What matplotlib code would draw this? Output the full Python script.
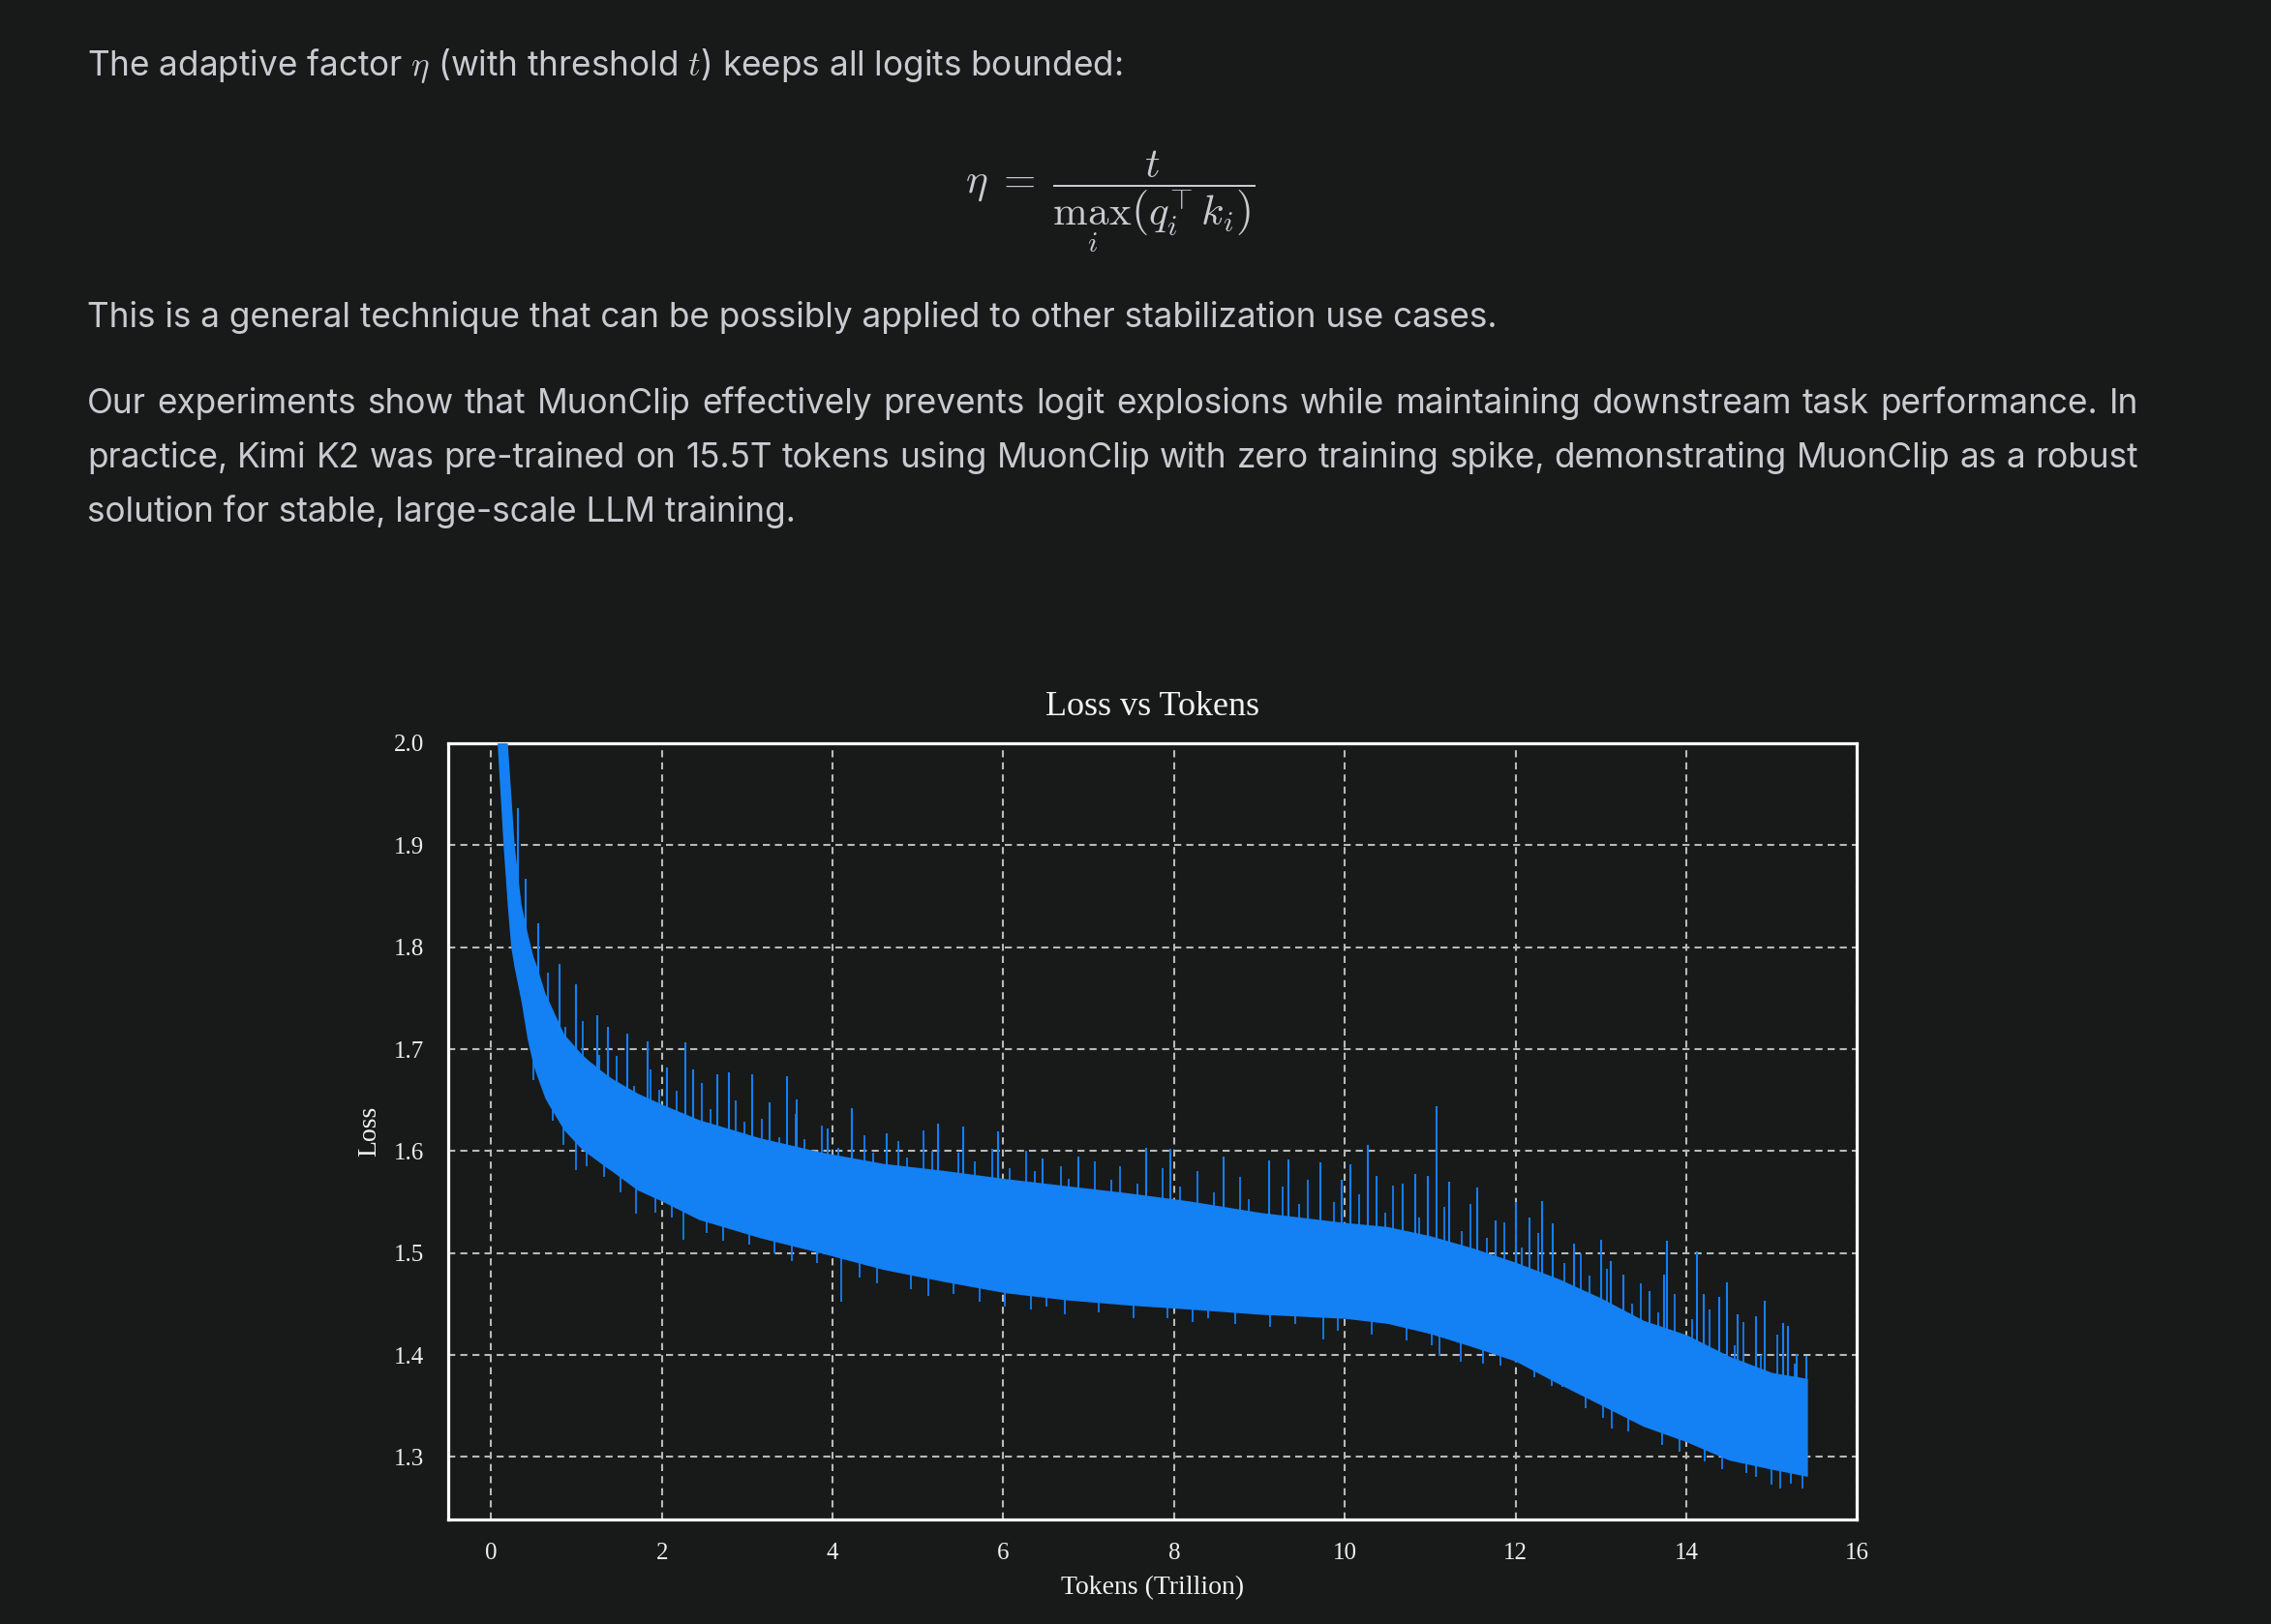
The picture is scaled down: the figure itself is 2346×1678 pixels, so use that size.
import numpy as np
import matplotlib
matplotlib.use("Agg")
import matplotlib.pyplot as plt

# ---------------- data ----------------
tokens = [0.07, 0.14, 0.19, 0.23, 0.27, 0.35, 0.42, 0.49, 0.53, 0.63, 0.67, 0.85,
          1.06, 1.14, 1.35, 1.42, 1.71, 2.00, 2.43, 3.15, 3.87, 4.59, 5.31, 6.03,
          6.75, 7.47, 8.19, 9.00, 10.00, 10.50, 11.00, 11.50, 12.00, 12.50, 13.00, 13.50,
          14.00, 14.50, 15.00, 15.42]
loss_low = [2.000, 1.900, 1.840, 1.800, 1.780, 1.747, 1.711, 1.685, 1.675, 1.652, 1.646, 1.621,
            1.602, 1.597, 1.584, 1.580, 1.562, 1.551, 1.533, 1.515, 1.500, 1.484, 1.472, 1.461,
            1.454, 1.449, 1.445, 1.440, 1.436, 1.431, 1.421, 1.408, 1.394, 1.372, 1.351, 1.330,
            1.315, 1.297, 1.288, 1.281]
loss_high = [2.300, 2.080, 2.000, 1.950, 1.900, 1.842, 1.815, 1.791, 1.782, 1.755, 1.748, 1.715,
             1.695, 1.689, 1.675, 1.671, 1.657, 1.646, 1.631, 1.613, 1.599, 1.588, 1.581, 1.573,
             1.566, 1.559, 1.551, 1.540, 1.530, 1.526, 1.517, 1.505, 1.491, 1.475, 1.456, 1.434,
             1.420, 1.399, 1.383, 1.377]

# tall upward spikes
spike_up_x = [0.31, 0.40, 0.55, 0.80, 0.99, 1.24, 1.37, 1.60, 1.83, 2.06, 2.27, 2.36, 2.65,
              2.78, 3.06, 3.26, 3.47, 3.58, 3.94, 4.22, 4.63, 5.24, 5.53, 5.94, 6.46, 6.88,
              7.67, 7.96, 8.58, 9.11, 9.34, 9.71, 9.96, 10.07, 10.27, 10.37, 10.68, 10.82,
              10.97, 11.08, 11.22, 11.55, 11.77, 12.01, 12.16, 12.31, 12.44, 12.68, 13.00,
              13.12, 13.26, 13.57, 13.74, 13.77, 14.12, 14.21, 14.39, 14.48, 14.60, 14.82,
              14.92, 15.13, 15.19, 15.29, 15.41]
spike_up_y = [1.936, 1.867, 1.823, 1.784, 1.764, 1.733, 1.722, 1.715, 1.708, 1.682, 1.707, 1.680, 1.675,
              1.677, 1.675, 1.648, 1.673, 1.651, 1.622, 1.642, 1.617, 1.627, 1.624, 1.619, 1.593, 1.595,
              1.603, 1.602, 1.595, 1.591, 1.592, 1.589, 1.572, 1.587, 1.606, 1.576, 1.568, 1.578,
              1.576, 1.644, 1.570, 1.564, 1.532, 1.550, 1.535, 1.551, 1.529, 1.509, 1.513,
              1.492, 1.479, 1.463, 1.479, 1.512, 1.502, 1.460, 1.457, 1.471, 1.440, 1.438,
              1.453, 1.431, 1.429, 1.401, 1.399]
# small upward spikes along the upper edge
minor_up_x = [0.67, 0.87, 1.07, 1.27, 1.47, 1.67, 1.87, 1.97, 2.17, 2.47, 2.57, 2.87, 2.97,
              3.17, 3.37, 3.57, 3.67, 3.87, 4.07, 4.37, 4.47, 4.77, 4.87, 5.07, 5.17, 5.47,
              5.67, 5.87, 6.07, 6.27, 6.37, 6.67, 6.77, 7.07, 7.27, 7.37, 7.57, 7.87, 8.07,
              8.27, 8.47, 8.77, 8.87, 9.27, 9.47, 9.57, 9.87, 10.17, 10.47, 10.57, 10.87,
              11.17, 11.37, 11.47, 11.67, 11.87, 12.07, 12.27, 12.57, 12.77, 12.87, 13.07,
              13.37, 13.47, 13.67, 13.87, 14.07, 14.27, 14.57, 14.67, 14.87, 15.07, 15.27]
minor_up_y = [1.775, 1.722, 1.728, 1.694, 1.693, 1.664, 1.680, 1.660, 1.659, 1.667, 1.641, 1.650, 1.629,
              1.632, 1.614, 1.636, 1.612, 1.625, 1.603, 1.616, 1.598, 1.610, 1.594, 1.620, 1.600, 1.598,
              1.590, 1.602, 1.583, 1.600, 1.580, 1.585, 1.573, 1.590, 1.572, 1.585, 1.568, 1.583, 1.565,
              1.580, 1.560, 1.575, 1.553, 1.565, 1.548, 1.572, 1.550, 1.558, 1.540, 1.566, 1.535,
              1.545, 1.522, 1.548, 1.515, 1.530, 1.505, 1.520, 1.490, 1.500, 1.478, 1.485,
              1.450, 1.470, 1.442, 1.460, 1.435, 1.445, 1.410, 1.432, 1.400, 1.420, 1.392]
# downward spikes below the lower edge
spike_down_x = [0.49, 0.72, 0.85, 0.99, 1.12, 1.32, 1.52, 1.70, 1.92, 2.12, 2.25, 2.52, 2.72,
                3.02, 3.32, 3.52, 3.82, 4.10, 4.32, 4.52, 4.92, 5.12, 5.42, 5.72, 6.02, 6.32,
                6.50, 6.72, 7.12, 7.52, 7.92, 8.22, 8.40, 8.72, 9.12, 9.42, 9.75, 9.92, 10.32,
                10.72, 11.02, 11.11, 11.36, 11.62, 11.82, 12.22, 12.42, 12.55, 12.82, 13.02,
                13.13, 13.32, 13.72, 13.92, 14.22, 14.42, 14.70, 14.82, 15.00, 15.10, 15.22, 15.36]
spike_down_y = [1.670, 1.630, 1.606, 1.581, 1.585, 1.575, 1.560, 1.539, 1.540, 1.535, 1.513, 1.520, 1.512,
                1.508, 1.500, 1.492, 1.490, 1.452, 1.476, 1.470, 1.465, 1.458, 1.460, 1.452, 1.448, 1.445,
                1.448, 1.440, 1.442, 1.436, 1.436, 1.432, 1.436, 1.430, 1.428, 1.430, 1.415, 1.424, 1.420,
                1.414, 1.410, 1.399, 1.393, 1.392, 1.390, 1.378, 1.370, 1.369, 1.348, 1.338,
                1.328, 1.325, 1.312, 1.305, 1.296, 1.288, 1.284, 1.280, 1.273, 1.269, 1.274, 1.269]

x_ticks = [0, 2, 4, 6, 8, 10, 12, 14, 16]
y_ticks = [1.3, 1.4, 1.5, 1.6, 1.7, 1.8, 1.9, 2.0]

line1 = r"The adaptive factor $\eta$ (with threshold $t$) keeps all logits bounded:"
equation = r"$\eta \;=\; \dfrac{t}{\max_i \left(q_i^{\top} k_i\right)}$"
line2 = "This is a general technique that can be possibly applied to other stabilization use cases."
para_lines = [
    "Our experiments show that MuonClip effectively prevents logit explosions while maintaining downstream task performance. In",
    "practice, Kimi K2 was pre-trained on 15.5T tokens using MuonClip with zero training spike, demonstrating MuonClip as a robust",
]
para_last = "solution for stable, large-scale LLM training."

# ---------------- styling ----------------
BG = "#181919"
TXT = "#c8ccd1"
BLUE = "#1380f4"
W, H = 2346, 1678
plt.rcParams["mathtext.fontset"] = "cm"

fig = plt.figure(figsize=(W / 100, H / 100), dpi=100, facecolor=BG)

def fx(px):
    return px / W

def fy(py):
    return 1 - py / H

SANS = ["Inter", "DejaVu Sans"]
FS = 25.3

fig.text(fx(90), fy(78), line1, fontsize=FS, color=TXT, family=SANS, va="baseline", ha="left")
fig.text(fx(1147), fy(208), equation, fontsize=31, color=TXT, va="center", ha="center")
fig.text(fx(90), fy(338), line2, fontsize=FS, color=TXT, family=SANS, va="baseline", ha="left")

renderer = fig.canvas.get_renderer()
for line, base in zip(para_lines, [427, 483]):
    words = line.split(" ")
    objs = [fig.text(0, fy(base), w, fontsize=FS, color=TXT, family=SANS, va="baseline", ha="left")
            for w in words]
    widths = [o.get_window_extent(renderer).width for o in objs]
    gap = (2209 - 90 - sum(widths)) / (len(words) - 1)
    xpos = 90.0
    for o, wd in zip(objs, widths):
        o.set_x(fx(xpos))
        xpos += wd + gap
fig.text(fx(90), fy(539), para_last, fontsize=FS, color=TXT, family=SANS, va="baseline", ha="left")

# ---------------- chart ----------------
ax = fig.add_axes([fx(463.3), fy(1570), fx(1918.3) - fx(463.3), fy(768) - fy(1570)])
ax.set_facecolor(BG)
ax.fill_between(tokens, loss_low, loss_high, color=BLUE, lw=0, zorder=3)
up_base = np.interp(spike_up_x, tokens, loss_high) - 0.01
ax.vlines(spike_up_x, up_base, spike_up_y, color=BLUE, lw=1.5, zorder=3)
mu_base = np.interp(minor_up_x, tokens, loss_high) - 0.01
ax.vlines(minor_up_x, mu_base, minor_up_y, color=BLUE, lw=1.3, zorder=3)
dn_base = np.interp(spike_down_x, tokens, loss_low) + 0.01
ax.vlines(spike_down_x, spike_down_y, dn_base, color=BLUE, lw=1.3, zorder=3)

ax.set_xlim(-0.5, 16)
ax.set_ylim(1.2387, 2.0)
ax.set_xticks(x_ticks)
ax.set_yticks(y_ticks)
ax.set_xticklabels([str(v) for v in x_ticks])
ax.set_yticklabels([f"{v:.1f}" for v in y_ticks])

SERIF = ["Liberation Serif", "DejaVu Serif"]
for lab in ax.get_xticklabels() + ax.get_yticklabels():
    lab.set_family(SERIF)
    lab.set_fontsize(18)
    lab.set_color("#eeeeee")
ax.tick_params(axis="x", length=0, pad=17)
ax.tick_params(axis="y", length=0, pad=18)

ax.grid(True, color="#b9b9b9", lw=1.5, linestyle=(0, (3.5, 2.5)), zorder=1)
for sp in ax.spines.values():
    sp.set_color("#ffffff")
    sp.set_linewidth(2.3)

ax.set_title("Loss vs Tokens", family=SERIF, fontsize=26, color="#f2f2f2", pad=21)
ax.set_xlabel("Tokens (Trillion)", family=SERIF, fontsize=20, color="#f2f2f2", labelpad=9)
ax.set_ylabel("Loss", family=SERIF, fontsize=20, color="#f2f2f2", labelpad=9.5)

fig.savefig("out.png", dpi=100, facecolor=BG)
